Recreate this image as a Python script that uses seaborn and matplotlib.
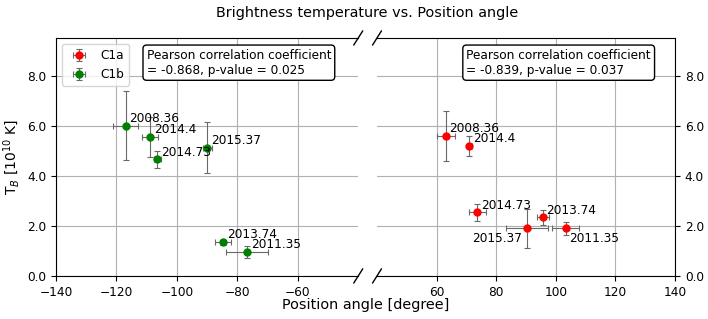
import numpy as np
import matplotlib
matplotlib.use("Agg")
import matplotlib.pyplot as plt
import seaborn as sns
from matplotlib.ticker import FormatStrFormatter

# epochs
epochs_c1b = ["2008.36", "2014.4", "2014.73", "2015.37", "2013.74", "2011.35"]
epochs_c1a = ["2008.36", "2014.4", "2014.73", "2015.37", "2013.74", "2011.35"]

# C1b (negative position angles)
pa_c1b = [-116.9, -108.8, -106.5, -89.9, -84.7, -76.7]
pa_err_c1b = [4.1, 2.7, 1.1, 1.5, 2.6, 7.0]
tb_c1b = [6.00, 5.54, 4.65, 5.12, 1.35, 0.96]
tb_err_c1b = [1.38, 0.79, 0.33, 1.02, 0.10, 0.25]

# C1a (positive position angles)
pa_c1a = [63.1, 71.0, 73.7, 90.3, 95.6, 103.3]
pa_err_c1a = [3.0, 0.8, 3.0, 7.0, 2.0, 4.5]
tb_c1a = [5.58, 5.18, 2.54, 1.90, 2.34, 1.90]
tb_err_c1a = [1.00, 0.40, 0.33, 0.78, 0.30, 0.26]

pearson_c1b = "Pearson correlation coefficient\n= -0.868, p-value = 0.025"
pearson_c1a = "Pearson correlation coefficient\n= -0.839, p-value = 0.037"

sns.set_style("ticks")
plt.rcParams['font.family'] = ['DejaVu Sans']
plt.rcParams.update({'text.color': 'black', 'axes.labelcolor': 'black',
                     'xtick.color': 'black', 'ytick.color': 'black',
                     'axes.edgecolor': 'black'})
fs = 8.7

fig = plt.figure(figsize=(7.08, 3.19), dpi=100)
ax1 = fig.add_axes([0.079, 0.135, 0.427, 0.746])
ax2 = fig.add_axes([0.5325, 0.135, 0.421, 0.746])

eb_kw = dict(fmt='o', ecolor='dimgray', elinewidth=0.8, capsize=2,
             capthick=0.8, markersize=5)
h_b = ax1.errorbar(pa_c1b, tb_c1b, xerr=pa_err_c1b, yerr=tb_err_c1b,
                   color='green', label='C1b', **eb_kw)
h_a = ax2.errorbar(pa_c1a, tb_c1a, xerr=pa_err_c1a, yerr=tb_err_c1a,
                   color='red', label='C1a', **eb_kw)

# labels next to points
for x, y, t in zip(pa_c1b, tb_c1b, epochs_c1b):
    ax1.text(x + 1.2, y + 0.15, t, fontsize=fs)
for x, y, t in zip(pa_c1a, tb_c1a, epochs_c1a):
    if t == "2015.37":
        ax2.text(x - 1.5, y - 0.15, t, fontsize=fs, ha='right', va='top')
    elif t == "2011.35":
        ax2.text(x + 1.0, y - 0.15, t, fontsize=fs, ha='left', va='top')
    else:
        ax2.text(x + 1.2, y + 0.15, t, fontsize=fs)

box = dict(boxstyle='round', fc='white', ec='black')
ax1.text(0.3, 0.955, pearson_c1b, transform=ax1.transAxes, fontsize=fs,
         va='top', ha='left', bbox=box)
ax2.text(0.3, 0.955, pearson_c1a, transform=ax2.transAxes, fontsize=fs,
         va='top', ha='left', bbox=box)

ax1.set_xlim(-140, -40)
ax2.set_xlim(40, 140)
for ax in (ax1, ax2):
    ax.set_ylim(0, 9.5)
    ax.set_yticks([0, 2, 4, 6, 8])
    ax.yaxis.set_major_formatter(FormatStrFormatter('%.1f'))
    ax.grid(True, color='#b0b0b0', linewidth=0.8)
    ax.tick_params(labelsize=fs)
ax1.set_xticks([-140, -120, -100, -80, -60])
ax2.set_xticks([60, 80, 100, 120, 140])

ax1.spines['right'].set_visible(False)
ax2.spines['left'].set_visible(False)
ax2.yaxis.tick_right()
ax2.tick_params(left=False)

# break marks
d = 0.015
kw = dict(transform=ax1.transAxes, color='k', clip_on=False, linewidth=1)
ax1.plot((1 - d, 1 + d), (-d * 2, d * 2), **kw)
ax1.plot((1 - d, 1 + d), (1 - d * 2, 1 + d * 2), **kw)
kw.update(transform=ax2.transAxes)
ax2.plot((-d, d), (-d * 2, d * 2), **kw)
ax2.plot((-d, d), (1 - d * 2, 1 + d * 2), **kw)

ax1.set_ylabel('T$_B$ [10$^{10}$ K]', fontsize=10)
ax1.legend(handles=[h_a, h_b], loc='upper left', fontsize=fs)

fig.text(0.516, 0.03, 'Position angle [degree]', ha='center', fontsize=10.4)
fig.suptitle('Brightness temperature vs. Position angle', fontsize=10.4,
             x=0.518, y=0.98)

fig.savefig('out.png', dpi=100)
